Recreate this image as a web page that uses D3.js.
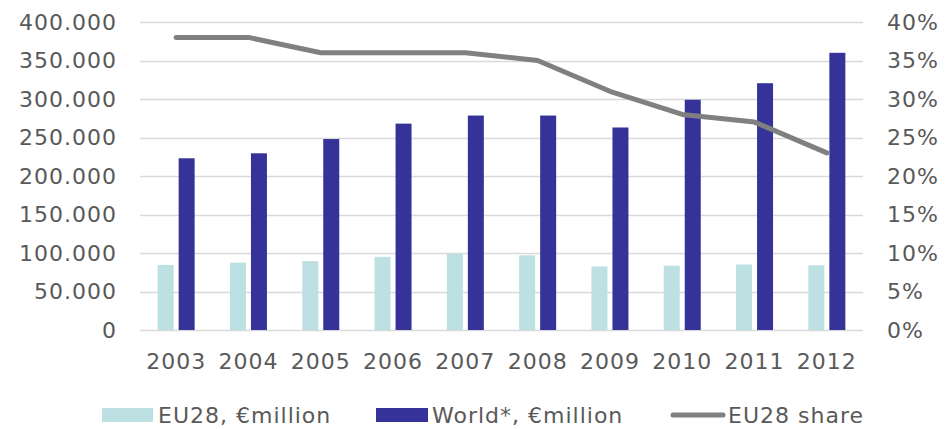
<!DOCTYPE html>
<html>
<head>
<meta charset="utf-8">
<script src="https://cdn.jsdelivr.net/npm/d3@7"></script>
<style>
body { margin: 0; background: #fff; }
text { font-family: "DejaVu Sans", Verdana, sans-serif; fill: #595959; letter-spacing: 1px; }
</style>
</head>
<body>
<div class="chart"></div>
<script>
var years = ["2003", "2004", "2005", "2006", "2007", "2008", "2009", "2010", "2011", "2012"];
var eu28 = [84500, 87500, 89500, 95000, 99000, 97000, 82500, 83500, 85000, 84000];
var world = [223000, 229500, 248000, 268000, 278500, 278500, 263000, 299000, 320500, 360000];
var share = [0.38, 0.38, 0.36, 0.36, 0.36, 0.35, 0.31, 0.28, 0.27, 0.23];
var leftTicks = [0, 50000, 100000, 150000, 200000, 250000, 300000, 350000, 400000];
var rightTicks = [0, 0.05, 0.10, 0.15, 0.20, 0.25, 0.30, 0.35, 0.40];

var width = 945, height = 429;
var plot = {left: 140, right: 863, top: 22, bottom: 330};

var svg = d3.select(".chart").append("svg")
	.attr("width", width).attr("height", height);

var x = d3.scaleBand().domain(years).range([plot.left, plot.right]);
var y = d3.scaleLinear().domain([0, 400000]).range([plot.bottom, plot.top]);
var y2 = d3.scaleLinear().domain([0, 0.40]).range([plot.bottom, plot.top]);

// thousands with a dot, like the original
var fmt = function(d) { return d3.format(",")(d).replace(/,/g, "."); };
var pct = d3.format(".0%");

// gridlines
svg.append("g").selectAll("line").data(leftTicks).enter().append("line")
	.attr("x1", plot.left).attr("x2", plot.right)
	.attr("y1", function(d) { return Math.round(y(d)) + 0.5; })
	.attr("y2", function(d) { return Math.round(y(d)) + 0.5; })
	.attr("stroke", "#d9d9d9").attr("stroke-width", 1.5);

// left axis
var yAxis = svg.append("g").attr("transform", "translate(" + (plot.left - 6) + ",0)")
	.call(d3.axisLeft(y).tickValues(leftTicks).tickFormat(fmt).tickSize(0).tickPadding(17));
yAxis.select(".domain").remove();
yAxis.selectAll("text").style("font-size", "22px").attr("fill", "#595959");

// right axis
var y2Axis = svg.append("g").attr("transform", "translate(" + (plot.right + 6) + ",0)")
	.call(d3.axisRight(y2).tickValues(rightTicks).tickFormat(pct).tickSize(0).tickPadding(18));
y2Axis.select(".domain").remove();
y2Axis.selectAll("text").style("font-size", "22px").attr("fill", "#595959");

// bottom axis
var xAxis = svg.append("g").attr("transform", "translate(0," + plot.bottom + ")")
	.call(d3.axisBottom(x).tickSize(0).tickPadding(23));
xAxis.select(".domain").remove();
xAxis.selectAll("text").style("font-size", "22px").attr("fill", "#595959");

// bars
var barW = 16, gap = 5;
svg.append("g").selectAll("rect").data(eu28).enter().append("rect")
	.attr("x", function(d, i) { return x(years[i]) + x.bandwidth() / 2 - gap / 2 - barW; })
	.attr("y", function(d) { return y(d); })
	.attr("width", barW)
	.attr("height", function(d) { return plot.bottom - y(d); })
	.attr("fill", "#bde0e3");

svg.append("g").selectAll("rect").data(world).enter().append("rect")
	.attr("x", function(d, i) { return x(years[i]) + x.bandwidth() / 2 + gap / 2; })
	.attr("y", function(d) { return y(d); })
	.attr("width", barW)
	.attr("height", function(d) { return plot.bottom - y(d); })
	.attr("fill", "#353399");

// share line
var line = d3.line()
	.x(function(d, i) { return x(years[i]) + x.bandwidth() / 2; })
	.y(function(d) { return y2(d); });

svg.append("path").datum(share)
	.attr("d", line)
	.attr("fill", "none")
	.attr("stroke", "#808080")
	.attr("stroke-width", 5)
	.attr("stroke-linecap", "round")
	.attr("stroke-linejoin", "round");

// legend
var lg = svg.append("g").style("font-size", "22px");
lg.append("rect").attr("x", 102).attr("y", 408).attr("width", 51).attr("height", 14).attr("fill", "#bde0e3");
lg.append("text").attr("x", 158).attr("y", 423).text("EU28, €million");
lg.append("rect").attr("x", 376).attr("y", 408).attr("width", 52).attr("height", 14).attr("fill", "#353399");
lg.append("text").attr("x", 432).attr("y", 423).text("World*, €million");
lg.append("line").attr("x1", 673).attr("x2", 723).attr("y1", 415).attr("y2", 415)
	.attr("stroke", "#808080").attr("stroke-width", 5).attr("stroke-linecap", "round");
lg.append("text").attr("x", 728).attr("y", 423).text("EU28 share");
</script>
</body>
</html>
